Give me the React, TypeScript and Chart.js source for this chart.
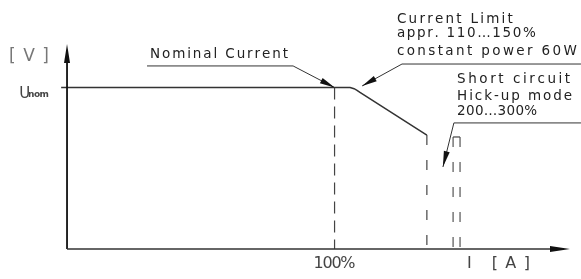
import React, { useEffect, useRef } from "react";
import { Chart, registerables } from "chart.js";

Chart.register(...registerables);

// ---- Data (current in % of nominal, voltage in % of Unom) ----
const curveCurrent = [-2.2, 100, 105.8, 107.3, 108.4, 109.5, 134.5];
const curveVoltage = [100, 100, 100, 99.3, 98.3, 97.0, 70.6];
const nominalCurrent = 100;
const nominalVoltage = 100;
const limitCurrent = 134.5;
const limitVoltage = 70.6;
const hiccupCurrents = [144.3, 146.9];
const hiccupVoltage = 69.4;
const xTickValues = [100];
const xTickLabels = ["100%"];
const xAxisTitle = "I [A]";
const yAxisTitle = "[V]";
const yRefLabel = "U";
const yRefSub = "nom";
const nominalText = ["Nominal Current"];
const limitText = ["Current Limit", "appr. 110…150%", "constant power 60W"];
const shortText = ["Short circuit", "Hick-up mode", "200…300%"];

const X_MIN = -3;
const X_MAX = 188;
const Y_MIN = 0;
const Y_MAX = 127;

const FONT = "DejaVu Sans";

function drawFit(ctx: CanvasRenderingContext2D, text: string, x: number, y: number, font: string, width: number, color: string) {
  ctx.save();
  ctx.font = font;
  ctx.fillStyle = color;
  ctx.textAlign = "left";
  ctx.textBaseline = "alphabetic";
  const chars = Array.from(text);
  const widths = chars.map((c) => ctx.measureText(c).width);
  const natural = widths.reduce((a, b) => a + b, 0);
  const sp = chars.length > 1 ? (width - natural) / (chars.length - 1) : 0;
  let cx = x;
  chars.forEach((c, i) => {
    ctx.fillText(c, cx, y);
    cx += widths[i] + sp;
  });
  ctx.restore();
}

function arrowHead(ctx: CanvasRenderingContext2D, fx: number, fy: number, tx: number, ty: number, len: number, half: number) {
  const dx = tx - fx;
  const dy = ty - fy;
  const d = Math.hypot(dx, dy);
  const ux = dx / d;
  const uy = dy / d;
  const bx = tx - ux * len;
  const by = ty - uy * len;
  const px = -uy;
  const py = ux;
  ctx.beginPath();
  ctx.moveTo(tx, ty);
  ctx.lineTo(bx + px * half, by + py * half);
  ctx.lineTo(bx - px * half, by - py * half);
  ctx.closePath();
  ctx.fill();
}

const annotationPlugin = {
  id: "diagramAnnotations",
  afterDatasetsDraw(chart: any) {
    const ctx: CanvasRenderingContext2D = chart.ctx;
    const xs = chart.scales.x;
    const ys = chart.scales.y;
    const X = (v: number) => xs.getPixelForValue(v);
    const Y = (v: number) => ys.getPixelForValue(v);
    const area = chart.chartArea;
    ctx.save();

    // axes
    ctx.strokeStyle = "#111";
    ctx.fillStyle = "#111";
    ctx.lineWidth = 1.8;
    ctx.beginPath();
    ctx.moveTo(X(0), Y(0));
    ctx.lineTo(X(0), area.top + 6);
    ctx.stroke();
    arrowHead(ctx, X(0), Y(0), X(0), area.top, 19, 3);
    ctx.strokeStyle = "#333";
    ctx.lineWidth = 1.5;
    ctx.beginPath();
    ctx.moveTo(X(0), Y(0));
    ctx.lineTo(area.right - 6, Y(0));
    ctx.stroke();
    ctx.fillStyle = "#111";
    arrowHead(ctx, X(0), Y(0), area.right, Y(0), 20, 3);

    // leaders
    ctx.strokeStyle = "#333";
    ctx.fillStyle = "#111";
    ctx.lineWidth = 1;
    const nTipX = X(nominalCurrent);
    const nTipY = Y(nominalVoltage);
    ctx.beginPath();
    ctx.moveTo(X(29.9), Y(113.4));
    ctx.lineTo(X(84.5), Y(113.4));
    ctx.lineTo(nTipX, nTipY);
    ctx.stroke();
    arrowHead(ctx, X(84.5), Y(113.4), nTipX, nTipY, 15, 3);
    const lTipX = X(110.3);
    const lTipY = Y(101);
    ctx.beginPath();
    ctx.moveTo(X(192.1), Y(114.6));
    ctx.lineTo(X(125.2), Y(114.6));
    ctx.lineTo(lTipX, lTipY);
    ctx.stroke();
    arrowHead(ctx, X(125.2), Y(114.6), lTipX, lTipY, 15, 3);
    const sTipX = X(140.5);
    const sTipY = Y(50.8);
    ctx.beginPath();
    ctx.moveTo(X(192.1), Y(78.1));
    ctx.lineTo(X(144.6), Y(78.1));
    ctx.lineTo(sTipX, sTipY);
    ctx.stroke();
    arrowHead(ctx, X(144.6), Y(78.1), sTipX, sTipY, 16, 3);

    // texts
    drawFit(ctx, yAxisTitle, X(-21.7), Y(116.5), `17px ${FONT}`, 40, "#777");
    drawFit(ctx, yRefLabel, X(-17.9), Y(93.6), `15px ${FONT}`, 8, "#444");
    drawFit(ctx, yRefSub, X(-14.6), Y(94.2), `bold 9px ${FONT}`, 21, "#444");
    drawFit(ctx, nominalText[0], X(31.0), Y(118.3), `13.5px ${FONT}`, 138, "#222");
    const limitW = [116, 139, 180];
    const limitY = [140.0, 131.4, 120.2];
    limitText.forEach((t, i) => drawFit(ctx, t, X(123.3), Y(limitY[i]), `13.5px ${FONT}`, limitW[i], "#222"));
    const shortW = [113, 115, 80];
    const shortY = [102.9, 92.3, 83.0];
    shortText.forEach((t, i) => drawFit(ctx, t, X(145.8), Y(shortY[i]), `13.5px ${FONT}`, shortW[i], "#222"));
    xTickValues.forEach((v, i) => {
      drawFit(ctx, xTickLabels[i], X(v) - 21, Y(-11.8), `16px ${FONT}`, 42, "#444");
    });
    drawFit(ctx, xAxisTitle, X(149.5), Y(-11.8), `16px ${FONT}`, 63, "#444");
    ctx.restore();
  },
};

function pts(xv: number[], yv: number[]) {
  return xv.map((x, i) => ({ x, y: yv[i] }));
}

export default function App() {
  const ref = useRef<HTMLCanvasElement | null>(null);
  useEffect(() => {
    if (!ref.current) return;
    const base = { showLine: true, pointRadius: 0, fill: false, tension: 0 };
    const chart = new Chart(ref.current, {
      type: "scatter",
      data: {
        datasets: [
          { ...base, data: pts(curveCurrent, curveVoltage), borderColor: "#333", borderWidth: 1.5 },
          { ...base, data: pts([nominalCurrent, nominalCurrent], [nominalVoltage, 0]), borderColor: "#444", borderWidth: 1.2, borderDash: [12, 7] },
          { ...base, data: pts([limitCurrent, limitCurrent], [limitVoltage, 0]), borderColor: "#444", borderWidth: 1.2, borderDash: [10, 15] },
          { ...base, data: pts(hiccupCurrents, [hiccupVoltage, hiccupVoltage]), borderColor: "#444", borderWidth: 1.2 },
          { ...base, data: pts([hiccupCurrents[0], hiccupCurrents[0]], [hiccupVoltage, 0]), borderColor: "#555", borderWidth: 1.2, borderDash: [10, 15] },
          { ...base, data: pts([hiccupCurrents[1], hiccupCurrents[1]], [hiccupVoltage, 0]), borderColor: "#555", borderWidth: 1.2, borderDash: [10, 15] },
        ] as any,
      },
      options: {
        responsive: false,
        animation: false,
        layout: { padding: { left: 59, right: 11, top: 44, bottom: 30 } },
        scales: {
          x: { type: "linear", min: X_MIN, max: X_MAX, display: false },
          y: { type: "linear", min: Y_MIN, max: Y_MAX, display: false },
        },
        plugins: { legend: { display: false }, tooltip: { enabled: false }, title: { display: false } },
        events: [],
      },
      plugins: [annotationPlugin],
    });
    return () => chart.destroy();
  }, []);
  return (
    <div style={{ position: "fixed", left: 0, top: 0, width: 581, height: 279, background: "#fff" }}>
      <canvas ref={ref} width={581} height={279} style={{ display: "block", width: 581, height: 279 }} />
    </div>
  );
}
